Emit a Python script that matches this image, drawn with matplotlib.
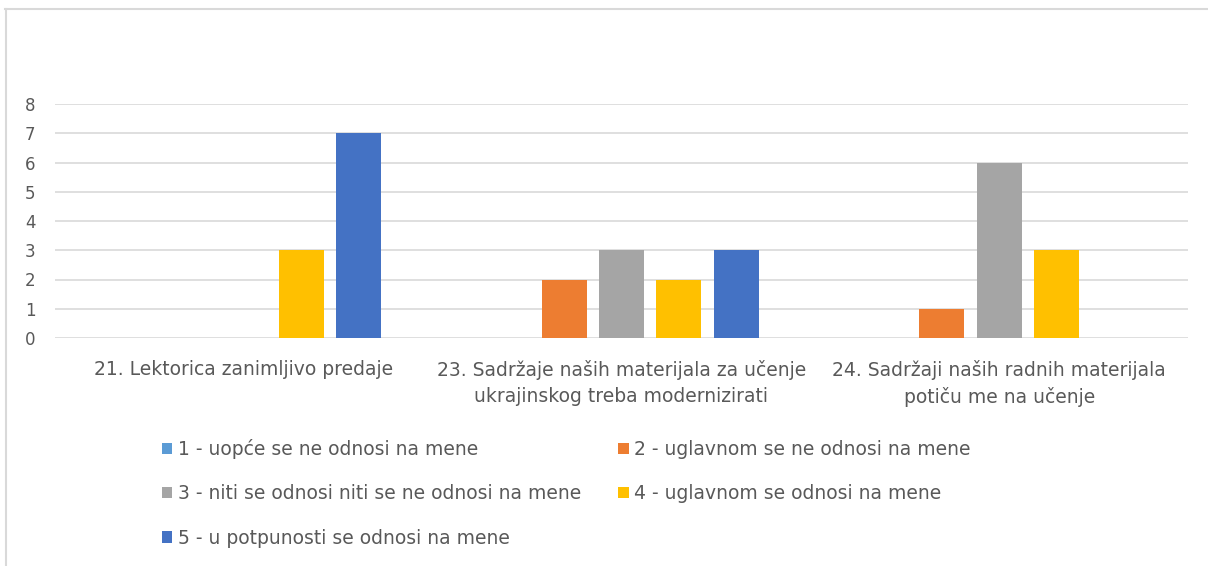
import matplotlib
matplotlib.use("Agg")
import matplotlib.pyplot as plt
from matplotlib.patches import Patch
from matplotlib.lines import Line2D
import numpy as np

categories = ["21. Lektorica zanimljivo predaje",
              "23. Sadržaje naših materijala za učenje\nukrajinskog treba modernizirati",
              "24. Sadržaji naših radnih materijala\npotiču me na učenje"]
series_names = ["1 - uopće se ne odnosi na mene",
                "2 - uglavnom se ne odnosi na mene",
                "3 - niti se odnosi niti se ne odnosi na mene",
                "4 - uglavnom se odnosi na mene",
                "5 - u potpunosti se odnosi na mene"]
s1 = [0, 0, 0]
s2 = [0, 2, 1]
s3 = [0, 3, 6]
s4 = [3, 2, 3]
s5 = [7, 3, 0]
values = [s1, s2, s3, s4, s5]
colors = ["#5B9BD5", "#ED7D31", "#A5A5A5", "#FFC000", "#4472C4"]
yticks = list(range(0, 9))

plt.rcParams['font.family'] = ['DejaVu Sans']
txt = "#595959"

fig = plt.figure(figsize=(12.08, 5.66), dpi=100)
ax = fig.add_axes([55/1208, 1-338/566, (1188-55)/1208, (338-104)/566])

x = np.arange(len(categories))
step = 0.152
width = 0.119
handles = []
for i, (v, c) in enumerate(zip(values, colors)):
    ax.bar(x + (i-2)*step, v, width=width, color=c, zorder=3)
    handles.append(Patch(facecolor=c, edgecolor='none'))

ax.set_xlim(-0.5, 2.5)
ax.set_ylim(0, 8)
ax.set_yticks(yticks)
ax.set_yticklabels([str(t) for t in yticks], fontsize=12, color=txt)
ax.set_xticks(x)
ax.set_xticklabels(categories, fontsize=13.5, color=txt, linespacing=1.45)
ax.tick_params(length=0)
ax.tick_params(axis='y', pad=14)
ax.tick_params(axis='x', pad=16)
ax.grid(axis='y', color="#D9D9D9", linewidth=1.2, zorder=0)
for s in ax.spines.values():
    s.set_visible(False)

order = [0, 2, 4, 1, 3]
leg = fig.legend([handles[k] for k in order], [series_names[k] for k in order],
                 ncol=2, loc='upper left', bbox_to_anchor=(162/1208, 1-439/566),
                 frameon=False, fontsize=13.5, labelcolor=txt,
                 handlelength=0.55, handleheight=0.55, handletextpad=0.3,
                 columnspacing=1.98, labelspacing=1.35, borderaxespad=0, borderpad=0)

fig.add_artist(Line2D([5/1208, 1], [1-8.5/566, 1-8.5/566], color="#D9D9D9", lw=1.5, transform=fig.transFigure))
fig.add_artist(Line2D([5.5/1208, 5.5/1208], [0, 1-8.5/566], color="#D9D9D9", lw=1.5, transform=fig.transFigure))

fig.savefig("out.png", dpi=100, facecolor="white")
